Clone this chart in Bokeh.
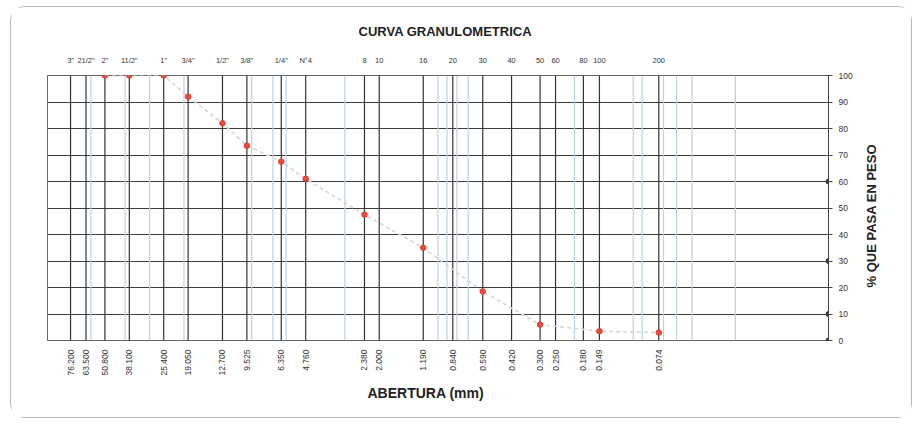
import math
from bokeh.plotting import figure
from bokeh.models import (Range1d, LogAxis, LinearAxis, FixedTicker, ColumnDataSource, Title)
from bokeh.embed import file_html
from bokeh.resources import INLINE

# ---- data ----
sieve_names = ['3"', '21/2"', '2"', '11/2"', '1"', '3/4"', '1/2"', '3/8"', '1/4"', 'N°4',
               '8', '10', '16', '20', '30', '40', '50', '60', '80', '100', '200']
sieve_mm = [76.2, 63.5, 50.8, 38.1, 25.4, 19.05, 12.7, 9.525, 6.35, 4.76,
            2.38, 2.0, 1.19, 0.84, 0.59, 0.42, 0.30, 0.25, 0.18, 0.149, 0.074]
mm_labels = ["76.200", "63.500", "50.800", "38.100", "25.400", "19.050", "12.700", "9.525",
             "6.350", "4.760", "2.380", "2.000", "1.190", "0.840", "0.590", "0.420",
             "0.300", "0.250", "0.180", "0.149", "0.074"]
light_mm = [60, 40, 30, 20, 9, 7, 6, 3, 1, 0.9, 0.8, 0.7, 0.2, 0.1, 0.09, 0.07, 0.06, 0.05, 0.03]

test_mm = [50.8, 38.1, 25.4, 19.05, 12.7, 9.525, 6.35, 4.76, 2.38, 1.19, 0.59, 0.30, 0.149, 0.074]
pct_pass = [100, 100, 100, 92, 82, 73.5, 67.5, 61, 47.5, 35, 18.5, 6, 3.5, 3]

edge_mm = [0.01, 0.01, 0.01, 0.01]
edge_pct = [60, 30, 10, 0]

pct_ticks = [0, 10, 20, 30, 40, 50, 60, 70, 80, 90, 100]
chart_title = "CURVA GRANULOMETRICA"
x_title = "ABERTURA (mm)"
y_title = "% QUE PASA EN PESO"

FONT = "Liberation Sans"

p = figure(width=902, height=412, x_axis_type="log",
           x_range=Range1d(100, 0.01), y_range=Range1d(0, 100),
           x_axis_location=None, y_axis_location=None,
           output_backend="svg", toolbar_location=None,
           min_border_left=36, min_border_right=85, min_border_top=68, min_border_bottom=79,
           background_fill_color="white", border_fill_color="white")
p.styles = {"border": "1px solid #b8b8b8", "border-radius": "14px",
            "margin-left": "10px", "margin-top": "6px"}

p.title.text = chart_title
p.title.align = "left"
p.title.offset = 311
p.title.text_font = FONT
p.title.text_font_size = "13px"
p.title.text_font_style = "bold"
p.title.text_color = "#222222"
p.title.standoff = 27

p.outline_line_color = "#666666"
p.xgrid.visible = False
p.ygrid.ticker = FixedTicker(ticks=pct_ticks)
p.ygrid.grid_line_color = "#3c3c3c"
p.ygrid.grid_line_width = 1

# light vertical lines
lsrc = ColumnDataSource(dict(x=light_mm, y0=[0] * len(light_mm), y1=[100] * len(light_mm)))
p.segment(x0="x", y0="y0", x1="x", y1="y1", source=lsrc, line_color="#bcd2e4", line_width=1.2)

# dark sieve lines
ssrc = ColumnDataSource(dict(x=sieve_mm, y0=[0] * len(sieve_mm), y1=[100] * len(sieve_mm)))
p.segment(x0="x", y0="y0", x1="x", y1="y1", source=ssrc, line_color="#333333", line_width=1.2)

# curve
csrc = ColumnDataSource(dict(x=test_mm, y=pct_pass))
p.line("x", "y", source=csrc, line_color="#d6d6d6", line_width=1.6, line_dash="4 3")
p.scatter("x", "y", source=csrc, size=5.5, marker="circle",
          fill_color="#ec4a3c", line_color="#d83a30")

p.scatter(edge_mm, edge_pct, size=5, marker="circle", fill_color="#333333", line_color="#333333")

# top axis (sieve numbers)
top = LogAxis(ticker=FixedTicker(ticks=sieve_mm),
              major_label_overrides={v: s for v, s in zip(sieve_mm, sieve_names)})
top.axis_line_color = None
top.major_tick_line_color = None
top.minor_tick_line_color = None
top.major_label_text_font = FONT
top.major_label_text_font_size = "7.5px"
top.major_label_text_color = "#333333"
top.major_label_standoff = 5
p.add_layout(top, "above")

# bottom axis (openings, mm)
bot = LogAxis(ticker=FixedTicker(ticks=sieve_mm),
              major_label_overrides={v: s for v, s in zip(sieve_mm, mm_labels)})
bot.axis_line_color = None
bot.major_tick_line_color = None
bot.minor_tick_line_color = None
bot.major_label_orientation = math.pi / 2
bot.major_label_text_font = FONT
bot.major_label_text_font_size = "8.5px"
bot.major_label_text_color = "#333333"
bot.major_label_standoff = 3
p.add_layout(bot, "below")

xt = Title(text=x_title, align="left", offset=320, standoff=8,
           text_font=FONT, text_font_size="14px", text_font_style="bold",
           text_color="#222222")
p.add_layout(xt, "below")

# right axis (% passing)
right = LinearAxis(ticker=FixedTicker(ticks=pct_ticks))
right.axis_line_color = "#444444"
right.major_tick_line_color = "#444444"
right.major_tick_in = 3
right.major_tick_out = 4
right.minor_tick_line_color = None
right.major_label_text_font = FONT
right.major_label_text_font_size = "8.5px"
right.major_label_text_color = "#333333"
right.major_label_standoff = 6
p.add_layout(right, "right")

# right-side title, reading bottom to top (starts at the 20 % level)
rtitle = LinearAxis(ticker=FixedTicker(ticks=[20]), major_label_overrides={20: y_title})
rtitle.axis_line_color = None
rtitle.major_tick_line_color = None
rtitle.minor_tick_line_color = None
rtitle.major_label_orientation = math.pi / 2
rtitle.major_label_text_font = FONT
rtitle.major_label_text_font_size = "13px"
rtitle.major_label_text_font_style = "bold"
rtitle.major_label_text_color = "#222222"
rtitle.major_label_standoff = 10
p.add_layout(rtitle, "right")

open("out.html", "w").write(file_html(p, INLINE))
